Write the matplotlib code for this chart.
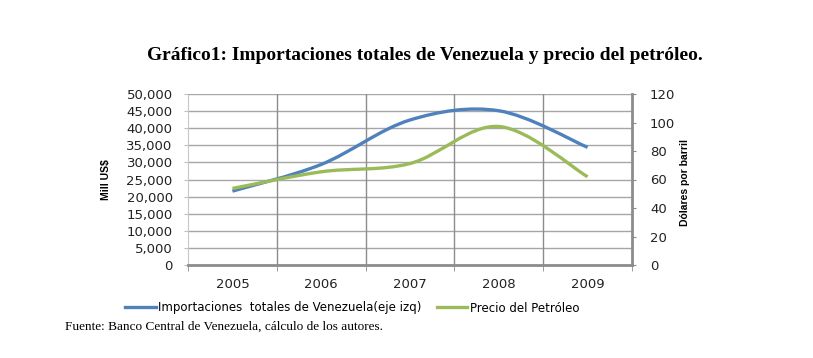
import matplotlib
matplotlib.use("Agg")
import matplotlib.pyplot as plt
import numpy as np
from matplotlib.path import Path
from matplotlib.patches import PathPatch

years = ["2005", "2006", "2007", "2008", "2009"]
importaciones = [21600, 29400, 42400, 45100, 34400]
precio = [53.7, 65.4, 71.2, 97.2, 61.9]

left_ticks = list(range(0, 50001, 5000))
right_ticks = list(range(0, 121, 20))

BLUE = "#4F81BD"
GREEN = "#9BBB59"


def smooth_path(xs, ys):
    xs = np.asarray(xs, float)
    ys = np.asarray(ys, float)
    n = len(xs)
    verts = [(xs[0], ys[0])]
    codes = [Path.MOVETO]
    for i in range(n - 1):
        i0 = max(i - 1, 0)
        i3 = min(i + 2, n - 1)
        c1 = (xs[i] + (xs[i + 1] - xs[i0]) / 6, ys[i] + (ys[i + 1] - ys[i0]) / 6)
        c2 = (xs[i + 1] - (xs[i3] - xs[i]) / 6, ys[i + 1] - (ys[i3] - ys[i]) / 6)
        verts += [c1, c2, (xs[i + 1], ys[i + 1])]
        codes += [Path.CURVE4] * 3
    return Path(verts, codes)


fig = plt.figure(figsize=(8.13, 3.58), dpi=100)
ax = fig.add_axes([188 / 813, 1 - 265 / 358, (632 - 188) / 813, (265 - 94) / 358])
ax2 = ax.twinx()

x = np.arange(len(years))
ax.set_xlim(-0.5, len(years) - 0.5)
ax.set_ylim(0, 50000)
ax2.set_ylim(0, 120)

# grid
for yv in left_ticks[1:]:
    ax.axhline(yv, color="#a6a6a6", lw=1.0, zorder=1)
for xb in np.arange(0.5, len(years) - 0.5, 1.0):
    ax.axvline(xb, color="#8c8c8c", lw=1.0, zorder=1)

ax.add_patch(PathPatch(smooth_path(x, importaciones), fill=False, edgecolor=BLUE,
                       lw=2.4, capstyle="butt", zorder=3))
ax2.add_patch(PathPatch(smooth_path(x, precio), fill=False, edgecolor=GREEN,
                        lw=2.4, capstyle="butt", zorder=3))

# legend proxies
ax.plot([], [], color=BLUE, lw=2.4, label="Importaciones  totales de Venezuela(eje izq)")
ax.plot([], [], color=GREEN, lw=2.4, label="Precio del Petróleo")

ax.set_xticks(x)
ax.set_xticklabels(years)
ax.set_xticks(np.arange(-0.5, len(years), 1.0), minor=True)
ax.tick_params(axis="x", which="major", length=0, pad=9, labelsize=9.5)
ax.tick_params(axis="x", which="minor", length=4, color="#8c8c8c", direction="out")

ax.set_yticks(left_ticks)
ax.set_yticklabels([f"{v:,}" for v in left_ticks])
ax.tick_params(axis="y", length=3, color="#bfbfbf", labelsize=9.5, pad=8)
ax2.set_yticks(right_ticks)
ax2.tick_params(axis="y", length=3, color="#8c8c8c", labelsize=9.5, pad=10)

for a in (ax, ax2):
    for s in a.spines.values():
        s.set_visible(False)
ax.spines["left"].set_visible(True)
ax.spines["left"].set_color("#c8c8c8")
ax.spines["left"].set_linestyle((0, (1, 1)))
ax.spines["bottom"].set_visible(True)
ax.spines["bottom"].set_color("#8c8c8c")
ax.spines["bottom"].set_linewidth(2.0)
ax2.spines["right"].set_visible(True)
ax2.spines["right"].set_color("#8c8c8c")
ax2.spines["right"].set_linewidth(2.0)

for lab in ax.get_yticklabels() + ax2.get_yticklabels() + ax.get_xticklabels():
    lab.set_color("#222222")

fig.text(106 / 813, 1 - 180 / 358, "Mill US$", rotation=90, ha="center", va="center",
         fontsize=7.5, fontweight="bold", family="Liberation Sans")
fig.text(685 / 813, 1 - 182 / 358, "Dólares por barril", rotation=90, ha="center", va="center",
         fontsize=7.5, fontweight="bold", family="Liberation Sans")

fig.text(425 / 813, 1 - 56 / 358,
         "Gráfico1: Importaciones totales de Venezuela y precio del petróleo.",
         ha="center", va="center", fontsize=14, fontweight="bold", family="Liberation Serif")

leg = fig.legend(loc="center", bbox_to_anchor=(352 / 813, 1 - 308 / 358), ncol=2,
                 frameon=False, fontsize=8.5, handlelength=2.6, handletextpad=0.2,
                 columnspacing=1.3)

fig.text(65 / 813, 1 - 327 / 358, "Fuente: Banco Central de Venezuela, cálculo de los autores.",
         ha="left", va="center", fontsize=9.5, family="Liberation Serif")

fig.savefig("out.png", dpi=100)
